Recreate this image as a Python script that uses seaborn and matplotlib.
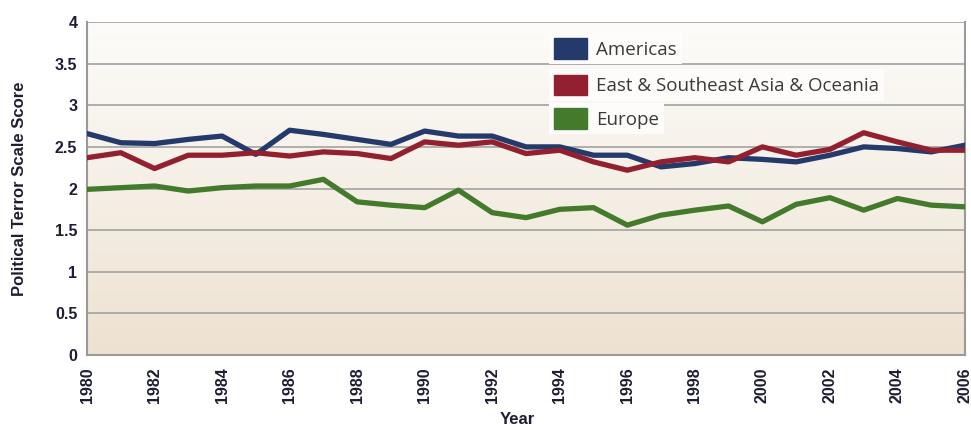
import numpy as np
import pandas as pd
import matplotlib
matplotlib.use("Agg")
import matplotlib.pyplot as plt
from matplotlib.patches import Patch
from matplotlib.colors import LinearSegmentedColormap
import seaborn as sns

years = list(range(1980, 2007))
americas = [2.66, 2.55, 2.54, 2.59, 2.63, 2.41, 2.70, 2.65, 2.59, 2.53,
            2.69, 2.63, 2.63, 2.50, 2.50, 2.40, 2.40, 2.26, 2.30, 2.37,
            2.35, 2.32, 2.40, 2.50, 2.48, 2.44, 2.52]
east_asia = [2.37, 2.43, 2.24, 2.40, 2.40, 2.43, 2.39, 2.44, 2.42, 2.36,
             2.56, 2.52, 2.56, 2.42, 2.46, 2.32, 2.22, 2.32, 2.37, 2.32,
             2.50, 2.40, 2.47, 2.67, 2.56, 2.46, 2.46]
europe = [1.99, 2.01, 2.03, 1.97, 2.01, 2.03, 2.03, 2.11, 1.84, 1.80,
          1.77, 1.98, 1.71, 1.65, 1.75, 1.77, 1.56, 1.68, 1.74, 1.79,
          1.60, 1.81, 1.89, 1.74, 1.88, 1.80, 1.78]
series_names = ["Americas", "East & Southeast Asia & Oceania", "Europe"]
colors = ["#243a6b", "#93202f", "#437a2b"]
y_ticks = [0, 0.5, 1, 1.5, 2, 2.5, 3, 3.5, 4]
y_tick_labels = ["0", "0.5", "1", "1.5", "2", "2.5", "3", "3.5", "4"]
x_ticks = list(range(1980, 2007, 2))

df = pd.DataFrame({
    "Year": years * 3,
    "Score": americas + east_asia + europe,
    "Region": [series_names[0]] * len(years) + [series_names[1]] * len(years)
              + [series_names[2]] * len(years),
})

sns.set_style("white")
plt.rcParams["font.family"] = ["Liberation Sans", "DejaVu Sans"]

fig = plt.figure(figsize=(9.71, 4.30), dpi=100)
ax = fig.add_axes([0.0896, 0.1744, 0.9042, 0.7744])

# gradient background (light at top, beige at bottom)
cmap = LinearSegmentedColormap.from_list("bg", ["#fdfcfa", "#ede2d1"])
grad = np.linspace(0, 1, 256).reshape(-1, 1)
ax.imshow(grad, cmap=cmap, aspect="auto", extent=[1980, 2006, 0, 4],
          origin="upper", zorder=0, interpolation="bilinear")

sns.lineplot(data=df, x="Year", y="Score", hue="Region",
             palette=dict(zip(series_names, colors)), linewidth=3.8,
             ax=ax, legend=False, zorder=3)

ax.set_xlim(1980, 2006)
ax.set_ylim(0, 4)
ax.set_yticks(y_ticks)
ax.set_yticklabels(y_tick_labels)
ax.set_xticks(x_ticks)
ax.set_xticklabels([str(x) for x in x_ticks], rotation=90)
for y in y_ticks:
    ax.axhline(y, color="#a8a8a8", linewidth=1.3, zorder=1)

for s in ["left", "bottom", "right"]:
    ax.spines[s].set_color("#9a9a9a")
    ax.spines[s].set_linewidth(1.5)
ax.spines["top"].set_visible(False)
ax.tick_params(axis="x", direction="out", length=6, width=1.5, color="#9a9a9a",
               labelsize=11.5, labelcolor="#1e1e33", pad=3)
ax.tick_params(axis="y", direction="out", length=0, labelsize=11.5,
               labelcolor="#1e1e33", pad=7)
ax.tick_params(axis="y", which="both", left=False)
for lab in ax.get_xticklabels() + ax.get_yticklabels():
    lab.set_fontweight("bold")

ax.set_xlabel("Year", fontsize=12, fontweight="bold", color="#1e1e33")
ax.xaxis.set_label_coords(0.49, -0.17)
ax.set_ylabel("Political Terror Scale Score", fontsize=12, fontweight="bold",
              color="#1e1e33")
ax.yaxis.set_label_coords(-0.068, 0.5)

# separate legend entries, each with its own white box
anchors = [(0.526, 0.968), (0.526, 0.858), (0.526, 0.758)]
zs = [7, 6, 5]
for name, col, anc, z in zip(series_names, colors, anchors, zs):
    leg = ax.legend(handles=[Patch(facecolor=col, edgecolor=col, label=name)],
                    loc="upper left", bbox_to_anchor=anc, borderaxespad=0,
                    frameon=True, fancybox=False, handlelength=1.75,
                    handleheight=1.3, handletextpad=0.45, borderpad=0.3,
                    prop={"family": "Open Sans", "size": 13.5})
    leg.get_frame().set_facecolor("#fdfcfa")
    leg.get_frame().set_edgecolor("none")
    leg.get_frame().set_alpha(1)
    leg.set_zorder(z)
    for t in leg.get_texts():
        t.set_color("#3a3a3a")
    ax.add_artist(leg)

fig.savefig("out.png", dpi=100)
